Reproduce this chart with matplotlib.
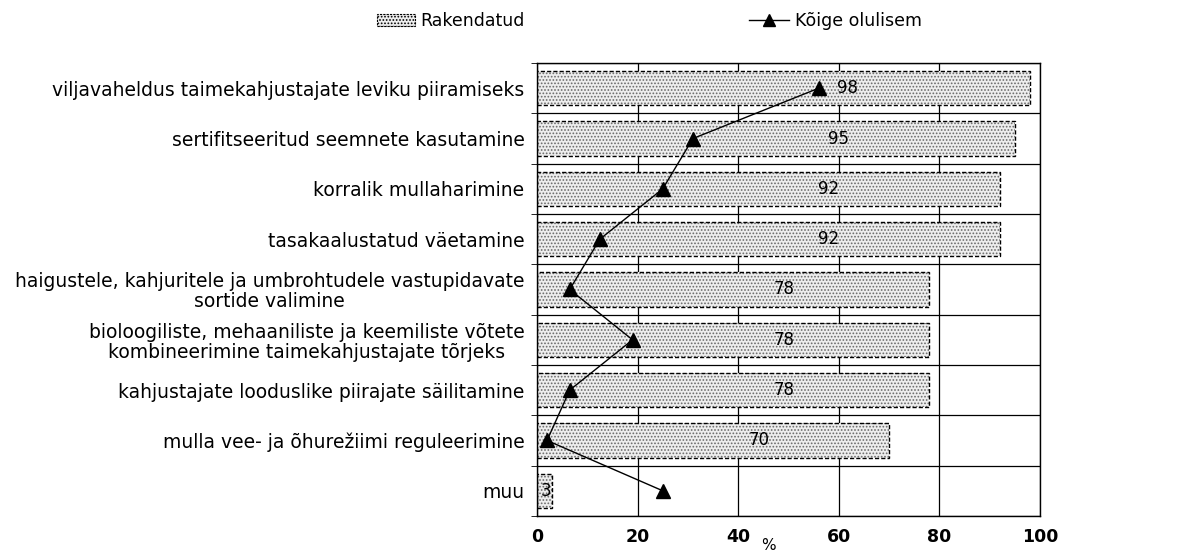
import matplotlib.pyplot as plt
import numpy as np
from matplotlib.patches import Patch
from matplotlib.lines import Line2D

# andmed (ülevalt alla)
categories = [
    'viljavaheldus taimekahjustajate leviku piiramiseks',
    'sertifitseeritud seemnete kasutamine',
    'korralik mullaharimine',
    'tasakaalustatud väetamine',
    'haigustele, kahjuritele ja umbrohtudele vastupidavate\nsortide valimine',
    'bioloogiliste, mehaaniliste ja keemiliste võtete\nkombineerimine taimekahjustajate tõrjeks',
    'kahjustajate looduslike piirajate säilitamine',
    'mulla vee- ja õhurežiimi reguleerimine',
    'muu',
]
rakendatud = [98, 95, 92, 92, 78, 78, 78, 70, 3]
koige_olulisem = [56, 31, 25, 12.5, 6.5, 19, 6.5, 2, 25]
xticks = [0, 20, 40, 60, 80, 100]

plt.rcParams['font.family'] = 'DejaVu Sans'
plt.rcParams['hatch.linewidth'] = 0.8

fig = plt.figure(figsize=(11.82, 5.53), dpi=100)
ax = fig.add_axes([0.4543, 0.067, 0.4256, 0.819])

n = len(categories)
y = np.arange(n)[::-1]

# tulbad: täide punktmustriga + katkendlik ääris
ax.barh(y, rakendatud, height=0.68, color='#eeeeee', hatch='.....',
        edgecolor='#6a6a6a', linewidth=0, zorder=2)
ax.barh(y, rakendatud, height=0.68, fill=False, edgecolor='black',
        linewidth=1.0, linestyle=(0, (3, 1.5)), zorder=3)
for yi, v in zip(y, rakendatud):
    ax.text(max(v * 0.63, 1.6), yi, str(v), ha='center', va='center',
            fontsize=12, zorder=5)

ax.plot(koige_olulisem, y, color='black', linewidth=1.0, marker='^',
        markersize=10, zorder=4)

ax.set_xlim(0, 100)
ax.set_ylim(-0.5, n - 0.5)
ax.set_xticks(xticks)
ax.set_xticklabels([str(t) for t in xticks], fontsize=12.5, fontweight='bold')
ax.tick_params(axis='x', length=0, pad=9)
ax.set_yticks(y)
ax.set_yticklabels(categories, fontsize=13.5, linespacing=1.05)
for lab in ax.get_yticklabels():
    lab.set_multialignment('center')
ax.tick_params(axis='y', length=0, pad=9)
ax.set_yticks(np.arange(n + 1) - 0.5, minor=True)
ax.tick_params(axis='y', which='minor', length=4, direction='out')
ax.grid(True, axis='x', color='black', linewidth=0.9, zorder=1)
ax.grid(True, axis='y', which='minor', color='black', linewidth=0.9, zorder=1)
ax.set_axisbelow(True)
for s in ax.spines.values():
    s.set_linewidth(1.0)

ax.annotate('%', xy=(46, 0), xycoords=('data', 'axes fraction'),
            xytext=(0, -16), textcoords='offset points', ha='center', va='top',
            fontsize=11)

h1 = Patch(facecolor='#eeeeee', hatch='.....', edgecolor='black',
           linestyle=(0, (2, 1)), linewidth=0.8)
h2 = Line2D([], [], color='black', linewidth=1.0, marker='^', markersize=9)
leg1 = fig.legend([h1], ['Rakendatud'], loc='center left',
                  bbox_to_anchor=(0.319, 0.962), frameon=False, fontsize=12.5,
                  handlelength=2.2, handletextpad=0.3, borderpad=0,
                  borderaxespad=0)
fig.legend([h2], ['Kõige olulisem'], loc='center left',
           bbox_to_anchor=(0.634, 0.962), frameon=False, fontsize=12.5,
           handlelength=2.3, handletextpad=0.3, borderpad=0, borderaxespad=0)

plt.savefig('out.png', dpi=100)
